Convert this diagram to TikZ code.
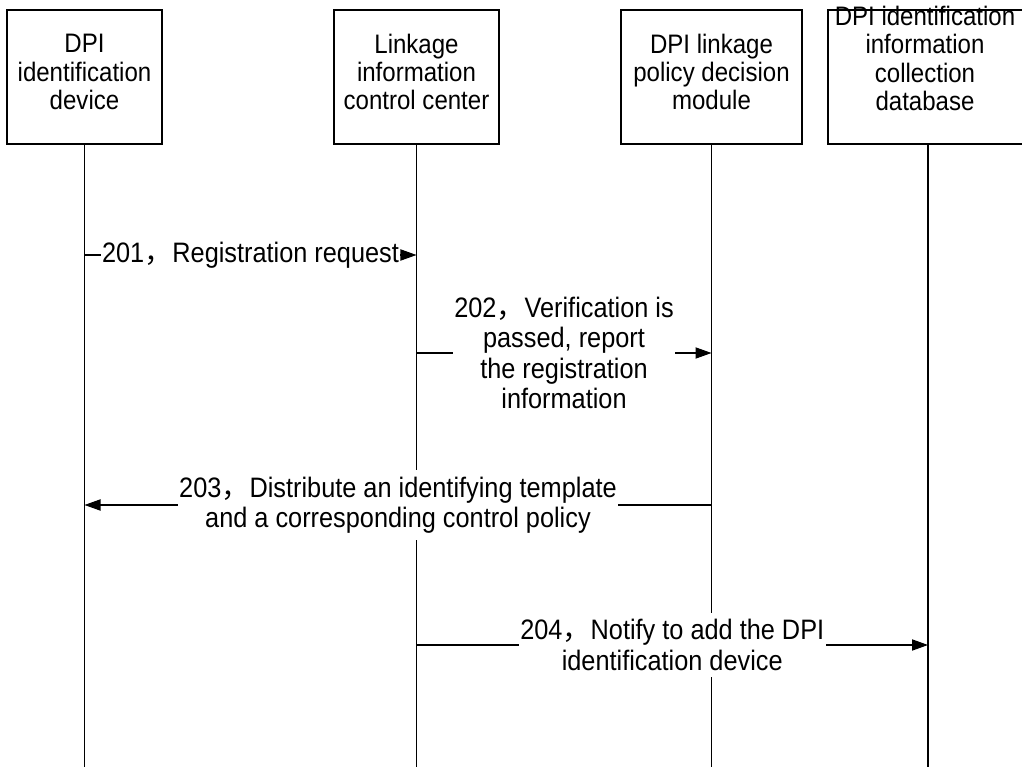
\documentclass[tikz,border=0pt]{standalone}
\usepackage{fontspec}
\setmainfont{Liberation Sans}[FakeStretch=0.9]
\newfontfamily\cjk{Noto Sans CJK SC}
\usetikzlibrary{arrows.meta, calc}
\newcommand{\zc}{{\cjk ，}}
\tikzstyle{actor}=[draw, line width=0.8pt, minimum height=3.35cm, inner sep=0pt]
\tikzstyle{actorname}=[align=center, font=\fontsize{19}{20}\selectfont, inner sep=0pt]
\tikzstyle{life}=[line width=0.8pt]
\tikzstyle{msg}=[line width=0.8pt, -{Triangle[length=0.4cm, width=0.28cm]}]
\tikzstyle{msglabel}=[fill=white, align=center, font=\fontsize{20}{21.5}\selectfont, inner xsep=1pt, inner ysep=5pt]

\begin{document}
\begin{tikzpicture}[x=0.025cm, y=-0.025cm]
    \useasboundingbox (0, 0) rectangle (1022, 767);

    \node[actor, minimum width=3.875cm] at (84.5, 77) (dev) {};
    \node[actor, minimum width=4.125cm] at (416.5, 77) (ctr) {};
    \node[actor, minimum width=4.525cm] at (711.5, 77) (pdm) {};
    \node[actor, minimum width=5cm] at (928, 77) (db) {};

    \node[actorname] at (84.5, 72) (devname) {DPI\\identification\\device};
    \node[actorname] at (416.5, 72) (ctrname) {Linkage\\information\\control center};
    \node[actorname] at (711.5, 72) (pdmname) {DPI linkage\\policy decision\\module};
    \node[actorname] at (925, 58.5) (dbname) {DPI identification\\information\\collection\\database};

    \coordinate (bottom) at (0, 767);
    \foreach \n in {dev, ctr, pdm, db}
        \draw[life] (\n.south) -- (\n |- bottom);

    \coordinate (r201) at (0, 255);
    \coordinate (r202) at (0, 353);
    \coordinate (r203) at (0, 505);
    \coordinate (r204) at (0, 645);

    \draw[msg] (dev |- r201) -- node[msglabel] (l201) {201\zc Registration request} (ctr |- r201);
    \draw[msg] (ctr |- r202) -- node[msglabel] (l202) {202\zc Verification is\\passed, report\\the registration\\information} (pdm |- r202);
    \draw[msg] (pdm |- r203) -- node[msglabel] (l203) {203\zc Distribute an identifying template\\and a corresponding control policy} (dev |- r203);
    \draw[msg] (ctr |- r204) -- node[msglabel] (l204) {204\zc Notify to add the DPI\\identification device} (db |- r204);
\end{tikzpicture}
\end{document}
